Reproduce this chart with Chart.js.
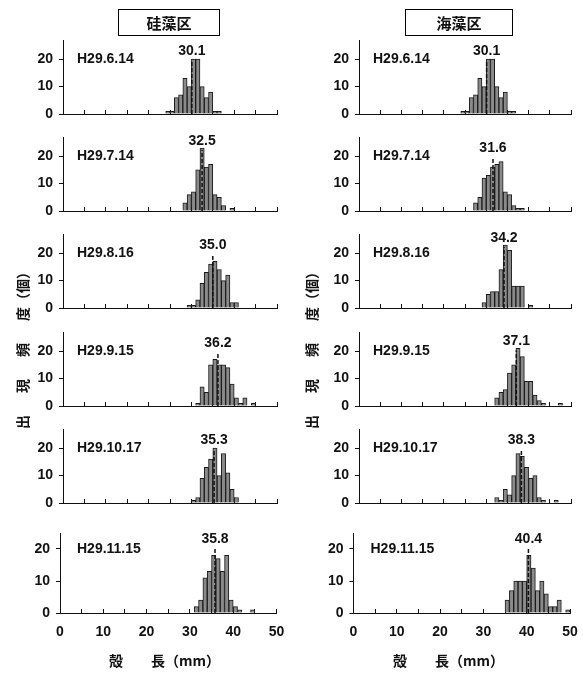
<!DOCTYPE html>
<html>
<head>
<meta charset="utf-8">
<script src="https://cdn.jsdelivr.net/npm/chart.js@4.4.0/dist/chart.umd.min.js"></script>
<style>
  html, body { margin: 0; padding: 0; background: #fff; overflow: hidden; }
  #wrap { position: relative; width: 583px; height: 675px; overflow: hidden; color: #111; }
  #wrap canvas { position: absolute; }
  .txt { position: absolute; z-index: 2; font-family: "Noto Sans CJK JP", "Liberation Sans", sans-serif; font-weight: bold; white-space: nowrap; }
  .box { border: 1px solid #000; text-align: center; font-size: 15px; line-height: 25px; height: 25px; }
  .ytitle { font-size: 14px; transform: translate(-50%, -50%) rotate(-90deg); }
  .xtitle { font-size: 14px; transform: translateY(-50%); }
</style>
</head>
<body>
<div id="wrap">
  <div class="txt box" style="left:118px;top:9px;width:100px;">硅藻区</div>
  <div class="txt box" style="left:405px;top:9px;width:106px;">海藻区</div>
  <div class="txt ytitle" style="left:22px;top:347px;"><span style="letter-spacing:22px">出現頻</span>度（個）</div>
  <div class="txt ytitle" style="left:311px;top:347px;"><span style="letter-spacing:22px">出現頻</span>度（個）</div>
  <div class="txt xtitle" style="left:109px;top:660px;"><span style="letter-spacing:7px">殻　</span>長（mm）</div>
  <div class="txt xtitle" style="left:393px;top:660px;"><span style="letter-spacing:7px">殻　</span>長（mm）</div>
</div>
<script>
// sampling dates (one row of panels each)
const dates = ['H29.6.14', 'H29.7.14', 'H29.8.16', 'H29.9.15', 'H29.10.17', 'H29.11.15'];

// 硅藻区: first 1 mm class of each histogram, counts per class, mean shell length
const diatomStart = [24, 28, 29, 31, 30, 31];
const diatomCounts = [
  [1, 1, 6, 7, 13, 10, 20, 20, 10, 6, 8, 1, 1],
  [3, 6, 7, 15, 23, 16, 17, 6, 5, 2, 0, 1],
  [1, 1, 3, 9, 13, 16, 17, 14, 10, 12, 2, 2],
  [1, 7, 5, 15, 17, 15, 15, 14, 8, 3, 1, 3, 0, 1],
  [1, 2, 9, 13, 16, 20, 10, 18, 11, 5, 2],
  [2, 4, 11, 13, 18, 17, 13, 18, 4, 2, 1, 0, 0, 1]
];
const diatomMean = [30.1, 32.5, 35.0, 36.2, 35.3, 35.8];

// 海藻区
const seaweedStart = [24, 27, 29, 32, 32, 35];
const seaweedCounts = [
  [1, 1, 6, 7, 13, 10, 20, 20, 10, 6, 8, 1, 1],
  [3, 5, 12, 13, 16, 17, 18, 7, 6, 2, 1, 1],
  [2, 5, 6, 6, 14, 23, 21, 8, 8, 8, 0, 1],
  [3, 5, 6, 12, 15, 21, 18, 9, 9, 4, 2, 1, 0, 0, 0, 1],
  [2, 1, 5, 3, 10, 18, 17, 13, 9, 10, 2, 1, 0, 0, 1],
  [4, 7, 10, 10, 10, 18, 14, 7, 10, 6, 2, 2, 4, 0, 1]
];
const seaweedMean = [30.1, 31.6, 34.2, 37.1, 38.3, 40.4];

const xTicks = [0, 10, 20, 30, 40, 50];

Chart.defaults.font.family = '"Liberation Sans", Arial, sans-serif';
Chart.defaults.font.weight = 'bold';
Chart.defaults.font.size = 14;
Chart.defaults.color = '#111';

/**
 * Dashed mean line, its value above and the date label
 */
const meanMark = {
  id: 'meanMark',
  afterDatasetsDraw(chart, args, opts) {
    const { ctx, scales: { x, y } } = chart;
    const px = x.getPixelForValue(opts.mean);
    const yl = y.getPixelForValue(opts.labelAt);
    ctx.save();
    ctx.strokeStyle = '#111';
    ctx.lineWidth = 1.5;
    ctx.setLineDash([4, 2]);
    ctx.beginPath();
    ctx.moveTo(px, y.getPixelForValue(0));
    ctx.lineTo(px, yl + 9);
    ctx.stroke();
    ctx.setLineDash([]);
    ctx.fillStyle = '#111';
    ctx.font = 'bold 14px "Liberation Sans", Arial, sans-serif';
    ctx.textAlign = 'center';
    ctx.textBaseline = 'middle';
    ctx.fillText(opts.mean.toFixed(1), px, yl);
    ctx.textAlign = 'left';
    ctx.fillText(opts.date, x.left + opts.dateGap, y.getPixelForValue(20));
    ctx.restore();
  }
};

function panelGeometry(col, row) {
  const last = row === 5;
  const x0 = last ? [60, 353.5][col] : [63, 359][col];
  const w = last ? 216.5 : [214, 212][col];
  const base = [114, 211, 308, 406, 503, 613][row];
  const yMax = last ? 25 : 27;
  const top = Math.round(base - yMax * (last ? 3.2 : 2.75));
  const padTop = 16;
  const xH = last ? 40 : 16;
  const cl = col === 0 ? 0 : 290;
  const cw = 320;
  return {
    last, yMax, cl, cw, xH, padTop,
    ct: top - padTop,
    ch: padTop + (base - top) + xH,
    yW: x0 - cl,
    padRight: cl + cw - (x0 + w)
  };
}

function buildPanel(col, row, start, counts, mean) {
  const g = panelGeometry(col, row);
  const canvas = document.createElement('canvas');
  canvas.width = g.cw;
  canvas.height = g.ch;
  canvas.style.left = g.cl + 'px';
  canvas.style.top = g.ct + 'px';
  document.getElementById('wrap').appendChild(canvas);

  const points = counts
    .map((c, i) => ({ x: start + i + 0.5, y: c }))
    .filter(p => p.y > 0);
  const labelAt = Math.max(Math.max(...counts) + 2.5, 23);

  return new Chart(canvas, {
    type: 'bar',
    data: {
      datasets: [{
        data: points,
        backgroundColor: '#8a8a8a',
        borderColor: '#1a1a1a',
        borderWidth: 1,
        barPercentage: 1,
        categoryPercentage: 1
      }]
    },
    options: {
      responsive: false,
      animation: false,
      layout: { padding: { top: g.padTop, right: g.padRight, bottom: 0, left: 0 } },
      plugins: {
        legend: { display: false },
        tooltip: { enabled: false },
        meanMark: { mean: mean, date: dates[row], labelAt: labelAt, dateGap: g.last ? 17 : 14 }
      },
      scales: {
        x: {
          type: 'linear',
          min: 0,
          max: 50,
          offset: false,
          afterFit: s => { s.height = g.xH; },
          border: { color: '#111', width: 1 },
          grid: { drawOnChartArea: false, tickLength: -4, color: '#111', offset: false },
          ticks: {
            display: g.last,
            stepSize: 5,
            autoSkip: false,
            maxRotation: 0,
            padding: 15,
            callback: v => xTicks.includes(v) ? v : ''
          }
        },
        y: {
          min: 0,
          max: g.yMax,
          afterFit: s => { s.width = g.yW; },
          border: { color: '#111', width: 1 },
          grid: { drawOnChartArea: false, tickLength: 4, color: '#111' },
          ticks: { stepSize: 10, includeBounds: false, padding: 6 }
        }
      }
    },
    plugins: [meanMark]
  });
}

dates.forEach((d, row) => {
  buildPanel(0, row, diatomStart[row], diatomCounts[row], diatomMean[row]);
  buildPanel(1, row, seaweedStart[row], seaweedCounts[row], seaweedMean[row]);
});
</script>
</body>
</html>
